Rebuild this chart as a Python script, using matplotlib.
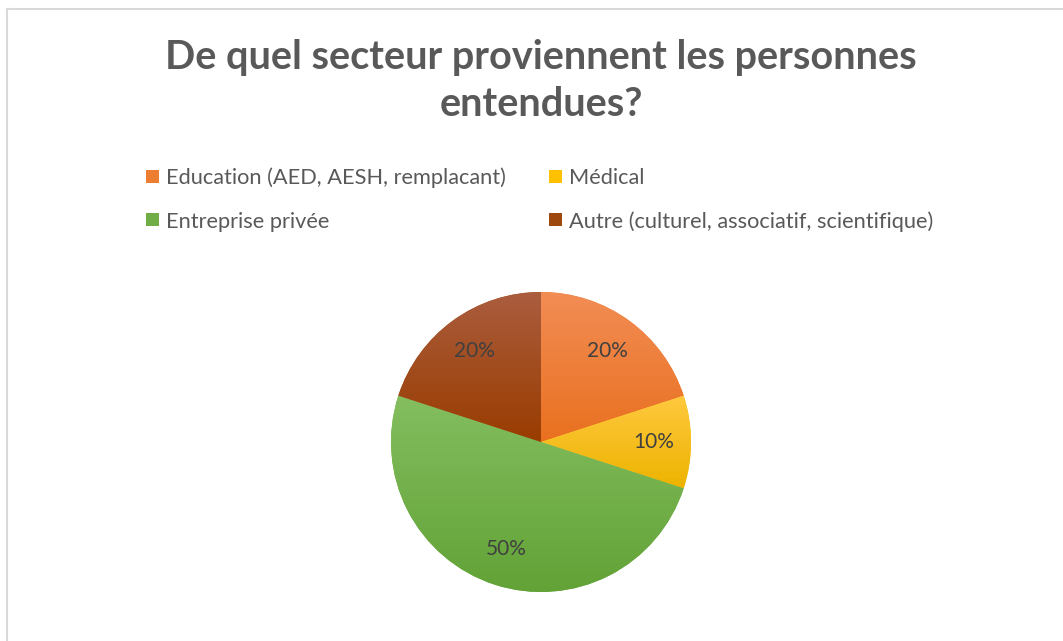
import matplotlib
matplotlib.use("Agg")
import matplotlib.pyplot as plt
import numpy as np
from matplotlib.colors import LinearSegmentedColormap
from matplotlib.patches import Rectangle
from matplotlib.lines import Line2D

titre = ["De quel secteur proviennent les personnes", "entendues?"]
secteurs = ["Education (AED, AESH, remplacant)", "Médical",
            "Entreprise privée", "Autre (culturel, associatif, scientifique)"]
parts = [20, 10, 50, 20]
couleurs = ["#ED7D31", "#FFC000", "#70AD47", "#9E480E"]
# degrade haut (clair) -> bas (fonce)
clairs = ["#F28D55", "#FFC93F", "#84BE60", "#AB5D3E"]
fonces = ["#E9701F", "#EDB300", "#62A236", "#993C00"]

W, H = 1063, 641
fig = plt.figure(figsize=(W / 100, H / 100), dpi=100)
fig.patch.set_facecolor("white")

# cadre du graphique (haut et gauche visibles)
fig.add_artist(Line2D([7 / W, 1], [1 - 8.5 / H, 1 - 8.5 / H], color="#D9D9D9", lw=1.5))
fig.add_artist(Line2D([7 / W, 7 / W], [0, 1 - 8.5 / H], color="#D9D9D9", lw=1.5))

for ligne, yb in zip(titre, [69, 116]):
    fig.text(541 / W, 1 - yb / H, ligne, ha="center", va="baseline", fontsize=28.5,
             fontweight="bold", color="#595959", family="Lato")

# legende
cols_x = [146, 549]
rows_y = [176, 220]
for i, (nom, c) in enumerate(zip(secteurs, couleurs)):
    x = cols_x[i % 2]
    y = rows_y[i // 2]
    fig.add_artist(Rectangle((x / W, 1 - (y + 6.5) / H), 13 / W, 13 / H,
                             facecolor=c, edgecolor="none"))
    fig.text((x + 20) / W, 1 - y / H, nom, ha="left", va="center_baseline",
             fontsize=15.7, color="#595959", family="Lato")

# camembert
cx, cy, r = 541, 442, 150
ax = fig.add_axes([(cx - r) / W, (H - cy - r) / H, 2 * r / W, 2 * r / H])
wedges, textes, pcts = ax.pie(parts, colors=couleurs, startangle=90, counterclock=False,
                              autopct="%1.0f%%", pctdistance=0.75, radius=1,
                              wedgeprops=dict(linewidth=0),
                              textprops=dict(color="#404040", fontsize=15, family="Lato"))
grad = np.linspace(1, 0, 256).reshape(-1, 1)
for w, cl, cf in zip(wedges, clairs, fonces):
    bb = w.get_path().get_extents()
    cmap = LinearSegmentedColormap.from_list("g", [cf, cl])
    im = ax.imshow(grad, cmap=cmap, extent=[bb.x0, bb.x1, bb.y0, bb.y1],
                   aspect="auto", zorder=1.5, origin="upper")
    im.set_clip_path(w)
for t in pcts:
    t.set_zorder(3)
ax.set_xlim(-1, 1)
ax.set_ylim(-1, 1)
ax.set_aspect("equal")
ax.axis("off")

fig.savefig("out.png", dpi=100)
